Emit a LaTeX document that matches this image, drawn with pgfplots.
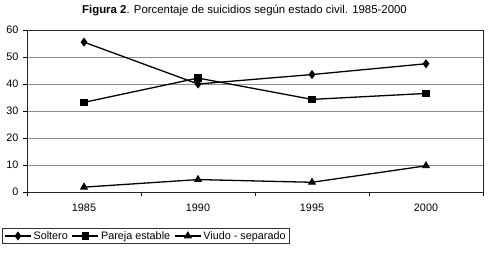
\documentclass[border=0pt]{standalone}
\usepackage{pgfplots}
\pgfplotsset{compat=1.18}
\usepackage{fontspec}
\setmainfont{Liberation Sans}
\begin{document}
\begin{tikzpicture}[x=1pt,y=1pt]
\useasboundingbox (0,0) rectangle (489,253);
\node[font=\fontsize{11.4}{13}\selectfont] at (244.5,242) {\textbf{Figura 2}. Porcentaje de suicidios según estado civil. 1985-2000};
\begin{axis}[
  at={(27pt,61pt)}, anchor=south west,
  scale only axis, width=456pt, height=162pt,
  xmin=-0.5, xmax=3.5, ymin=0, ymax=60,
  xtick={0,1,2,3}, xticklabels={1985,1990,1995,2000},
  major x tick style={draw=none},
  minor xtick={-0.5,0.5,1.5,2.5,3.5},
  ytick={0,10,...,60},
  tick align=outside, tick pos=left,
  major tick length=4pt, minor tick length=4pt,
  tick style={black, line width=0.6pt},
  ymajorgrids, grid style={black!45, line width=0.7pt},
  axis line style={black!85, line width=0.9pt},
  /pgf/number format/assume math mode=true,
  tick label style={font=\fontsize{10.8}{12}\selectfont},
  xticklabel style={yshift=-4pt},
  yticklabel style={xshift=-1pt},
  legend style={at={(axis description cs:-0.0548,-0.222)}, anchor=north west,
    legend columns=3, draw=black!80, line width=0.6pt,
    font=\fontsize{10.8}{12}\selectfont, inner xsep=2pt, inner ysep=1pt,
    /tikz/every even column/.append style={column sep=2pt}},
  legend image code/.code={\draw[#1, mark repeat=2, mark phase=2] plot coordinates {(0pt,0pt)(13pt,0pt)(26pt,0pt)};},
]
\addplot[black, line width=1.3pt, mark=diamond*, mark size=3.5pt, mark options={solid, fill=black}] coordinates {(0,55.5) (1,40.0) (2,43.5) (3,47.5)};
\addlegendentry{Soltero}
\addplot[black, line width=1.3pt, mark=square*, mark size=3pt, mark options={solid, fill=black}] coordinates {(0,33.2) (1,42.2) (2,34.3) (3,36.5)};
\addlegendentry{Pareja estable}
\addplot[black, line width=1.3pt, mark=triangle*, mark size=3.5pt, mark options={solid, fill=black}] coordinates {(0,1.8) (1,4.6) (2,3.6) (3,9.7)};
\addlegendentry{Viudo - separado}
\end{axis}
\end{tikzpicture}
\end{document}
